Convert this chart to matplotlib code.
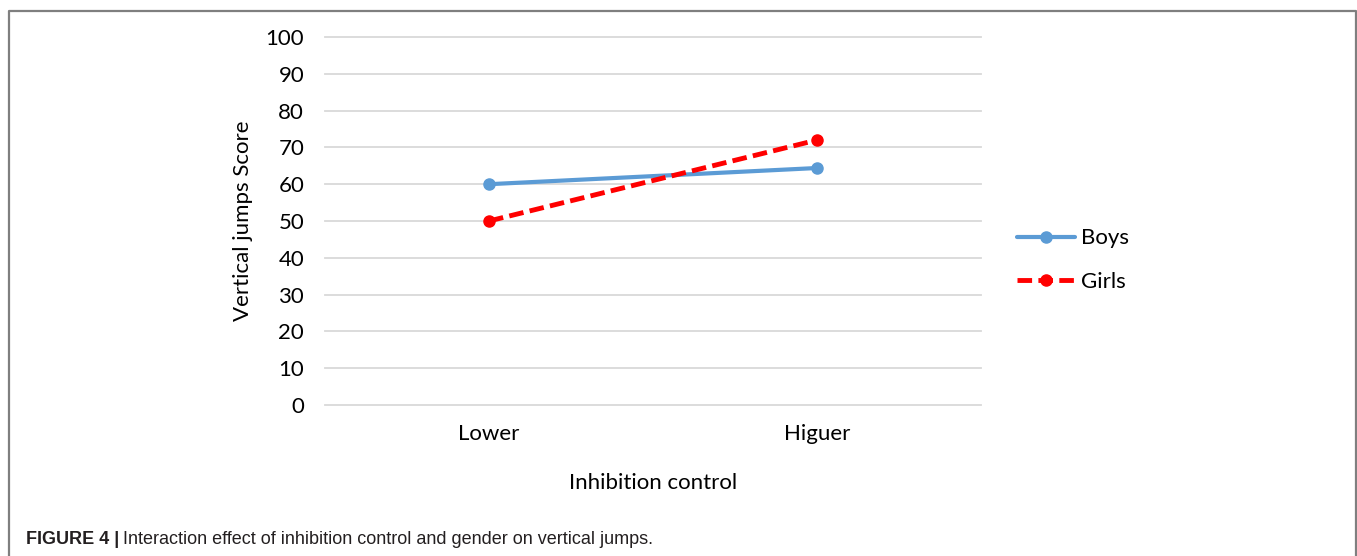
import matplotlib
matplotlib.use("Agg")
import matplotlib.pyplot as plt
from matplotlib.lines import Line2D

categories = ["Lower", "Higuer"]
boys = [60.0, 64.4]
girls = [50.0, 72.0]
yticks = list(range(0, 101, 10))

W, H = 1357, 556
fig = plt.figure(figsize=(W / 100, H / 100), dpi=100)

# plot area in pixel terms
left, right, top, bottom = 325, 981, 37, 405
ax = fig.add_axes([left / W, 1 - bottom / H, (right - left) / W, (bottom - top) / H])

font = ["Lato", "DejaVu Sans"]
x = [0.5, 1.5]
ax.plot(x, boys, color="#5B9BD5", lw=3, marker="o", ms=8, label="Boys",
        solid_capstyle="round", zorder=3)
ax.plot(x, girls, color="#FF0000", lw=3.5, ls=(0, (3, 1.3)), marker="o", ms=8,
        label="Girls", zorder=4)

ax.set_xlim(0, 2)
ax.set_ylim(0, 100)
ax.set_yticks(yticks)
ax.set_xticks(x)
ax.set_xticklabels(categories, fontsize=16, family=font)
ax.tick_params(axis="y", labelsize=16, length=0, pad=15)
ax.tick_params(axis="x", length=0, pad=14)
for lab in ax.get_yticklabels():
    lab.set_family(font)
ax.grid(axis="y", color="#D9D9D9", lw=1.3)
for gl in ax.get_ygridlines():
    gl.set_clip_on(False)
ax.set_axisbelow(True)
for s in ax.spines.values():
    s.set_visible(False)

fig.text(653 / W, 1 - 483 / H, "Inhibition control", ha="center", va="center",
         fontsize=16, family=font)
fig.text(243 / W, 1 - 221 / H, "Vertical jumps Score", ha="center", va="center",
         rotation=90, fontsize=16, family=font)

leg = fig.legend(loc="center left", bbox_to_anchor=(997 / W, 1 - 260 / H),
                 frameon=False, prop={"family": font, "size": 16},
                 handlelength=2.6, handletextpad=0.3, labelspacing=1.05)

# outer frame, open at the bottom
frame_col = "#7F7F7F"
fx0, fx1, fy = 8.5 / W, 1355.5 / W, 1 - 11 / H
fig.add_artist(Line2D([fx0, fx0, fx1, fx1], [0, fy, fy, 0], color=frame_col, lw=1.6,
                      transform=fig.transFigure))

# caption
cap_y = 1 - 539 / H
cap = fig.text(26 / W, cap_y, "FIGURE 4 |", fontsize=13, weight="bold",
               family=["Liberation Sans", "DejaVu Sans"], color="#231F20", va="center")
fig.canvas.draw()
bb = cap.get_window_extent()
fig.text((bb.x1 + 4) / W, cap_y,
         "Interaction effect of inhibition control and gender on vertical jumps.",
         fontsize=13, family=["Liberation Sans", "DejaVu Sans"],
         color="#231F20", va="center")

fig.savefig("out.png", dpi=100)
